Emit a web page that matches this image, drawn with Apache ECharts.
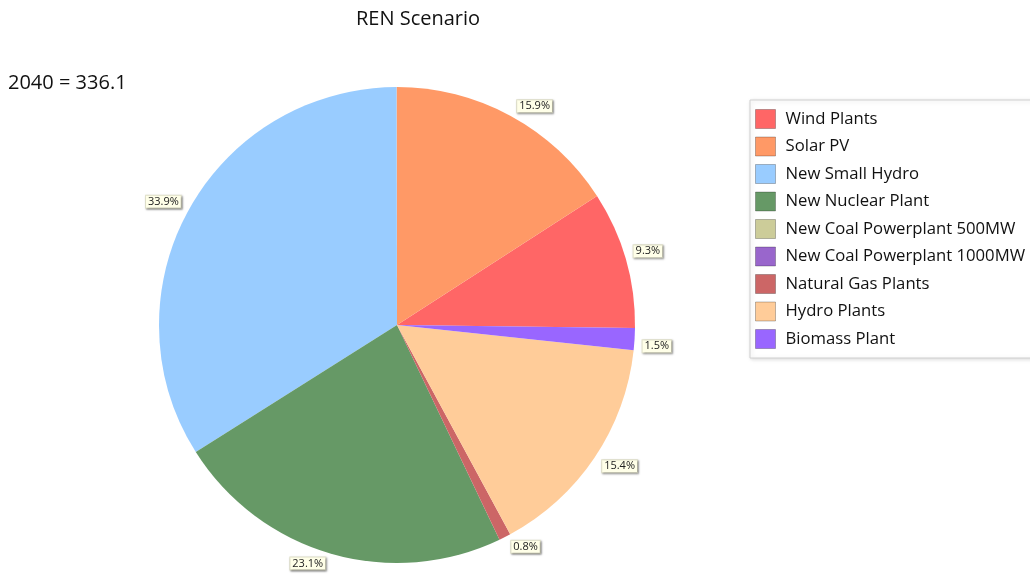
<!DOCTYPE html>
<html>
<head>
<meta charset="utf-8">
<script src="https://cdn.jsdelivr.net/npm/echarts@6/dist/echarts.min.js"></script>
<style>
  html, body { margin: 0; padding: 0; background: #fff; }
  #chart { width: 1030px; height: 577px; }
</style>
</head>
<body>
<div id="chart"></div>
<script>
// REN scenario, 2040 generation shares
const categories = [
  'Wind Plants',
  'Solar PV',
  'New Small Hydro',
  'New Nuclear Plant',
  'New Coal Powerplant 500MW',
  'New Coal Powerplant 1000MW',
  'Natural Gas Plants',
  'Hydro Plants',
  'Biomass Plant'
]
const values = [31.26, 53.44, 113.94, 77.64, 0, 0, 2.69, 51.76, 5.04]
const colors = ['#FF6666', '#FF9966', '#99CCFF', '#669966', '#CCCC99', '#9966CC', '#CC6666', '#FFCC99', '#9966FF']
const totalText = '2040 = 336.1'

const center = [397, 325]
const fontFamily = '"Open Sans", "Noto Sans", sans-serif'
const total = values.reduce((a, b) => a + b, 0)

let myChart = echarts.init(document.getElementById('chart'), null, { renderer: 'canvas' })

myChart.setOption({
  animation: false,
  color: colors,
  title: [
    {
      text: 'REN Scenario',
      left: 351,
      top: 4,
      textStyle: { fontSize: 20, fontWeight: 'normal', color: '#111', fontFamily: fontFamily },
    },
    {
      text: totalText,
      left: 3,
      top: 68,
      textStyle: { fontSize: 20, fontWeight: 'normal', color: '#111', fontFamily: fontFamily },
    },
  ],
  legend: {
    orient: 'vertical',
    left: 750,
    top: 100,
    padding: [9, 40, 9, 5],
    itemWidth: 20,
    itemHeight: 19,
    itemGap: 7.5,
    icon: 'rect',
    backgroundColor: '#fff',
    borderColor: '#d0d0d0',
    borderWidth: 1,
    shadowColor: 'rgba(0,0,0,0.15)',
    shadowBlur: 4,
    shadowOffsetX: 1,
    shadowOffsetY: 1,
    itemStyle: { borderColor: 'rgba(0,0,0,0.25)', borderWidth: 1 },
    textStyle: {
      fontSize: 16.7,
      lineHeight: 19,
      color: '#111',
      fontFamily: fontFamily,
      padding: [0, 0, 0, 5],
    },
    data: categories,
  },
  series: [
    {
      type: 'pie',
      center: center,
      radius: 238,
      clockwise: false,
      startAngle: -0.7,
      avoidLabelOverlap: false,
      data: categories.map((name, i) => ({
        name: name,
        value: values[i],
        label: { show: values[i] > 0 },
      })),
      label: {
        position: 'outside',
        formatter: (p) => ((p.value / total) * 100).toFixed(1) + '%',
        fontSize: 11,
        color: '#222',
        fontFamily: fontFamily,
        backgroundColor: '#ffffe8',
        borderColor: '#e2e2cc',
        borderWidth: 1,
        padding: [1, 2, 0, 2],
        shadowColor: 'rgba(0,0,0,0.35)',
        shadowBlur: 2,
        shadowOffsetX: 1,
        shadowOffsetY: 1,
      },
      labelLine: { show: false, length: 3, length2: 0 },
      labelLayout: function (p) {
        let r = p.labelRect
        let cy = r.y + r.height / 2
        return { dy: cy < center[1] ? -r.height / 2 : r.height / 2 }
      },
      emphasis: { disabled: true },
    },
  ],
})
</script>
</body>
</html>
